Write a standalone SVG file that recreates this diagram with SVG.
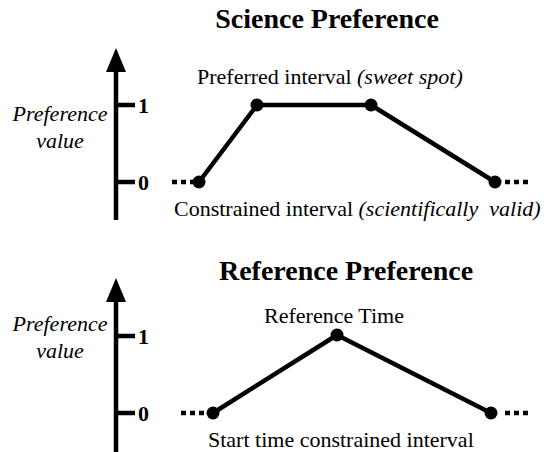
<svg xmlns="http://www.w3.org/2000/svg" width="548" height="452" viewBox="0 0 548 452">
<style>
text{font-family:"Liberation Serif","Times New Roman",serif;fill:#000}
.title{font-size:28px;font-weight:bold;text-anchor:middle}
.lbl{font-size:22px;white-space:pre}
.it{font-style:italic}
.num{font-size:22px;font-weight:bold}
.ax{stroke:#000;stroke-width:4.5;fill:none}
.curve{stroke:#000;stroke-width:4.5;fill:none;stroke-linejoin:round}
.dots{stroke:#000;stroke-width:4.5;stroke-dasharray:5 4;fill:none}
.pt{fill:#000}
</style>
<rect width="548" height="452" fill="#fff"/>
<g id="science">
  <text class="title" x="327" y="28">Science Preference</text>
  <g id="axis1">
    <line class="ax" x1="116" y1="66" x2="116" y2="220"/>
    <polygon points="116,48 106,72 126,72" fill="#000"/>
    <line class="ax" x1="116" y1="105" x2="135" y2="105"/>
    <line class="ax" x1="116" y1="182" x2="135" y2="182"/>
    <text class="num" x="138" y="113">1</text>
    <text class="num" x="138" y="190">0</text>
    <text class="lbl it" x="60" y="121" text-anchor="middle">Preference</text>
    <text class="lbl it" x="60" y="148" text-anchor="middle">value</text>
  </g>
  <g id="curve1">
    <line class="dots" x1="172" y1="182" x2="196" y2="182"/>
    <line class="dots" x1="505" y1="182" x2="530" y2="182"/>
    <polyline class="curve" points="199,182 257,105 371,105 495,182"/>
    <circle class="pt" cx="199" cy="182" r="6.5"/>
    <circle class="pt" cx="257" cy="105" r="6.5"/>
    <circle class="pt" cx="371" cy="105" r="6.5"/>
    <circle class="pt" cx="495" cy="182" r="6.5"/>
  </g>
  <text class="lbl" x="197" y="84">Preferred interval <tspan class="it">(sweet spot)</tspan></text>
  <text class="lbl" x="174" y="216" font-size="22.5">Constrained interval <tspan class="it">(scientifically  valid)</tspan></text>
</g>
<g id="reference">
  <text class="title" x="346" y="280">Reference Preference</text>
  <g id="axis2">
    <line class="ax" x1="116" y1="296" x2="116" y2="452"/>
    <polygon points="116,278 106,302 126,302" fill="#000"/>
    <line class="ax" x1="116" y1="336" x2="135" y2="336"/>
    <line class="ax" x1="116" y1="413" x2="135" y2="413"/>
    <text class="num" x="138" y="344">1</text>
    <text class="num" x="138" y="421">0</text>
    <text class="lbl it" x="60" y="331" text-anchor="middle">Preference</text>
    <text class="lbl it" x="60" y="358" text-anchor="middle">value</text>
  </g>
  <g id="curve2">
    <line class="dots" x1="181" y1="413" x2="206" y2="413"/>
    <line class="dots" x1="505" y1="413" x2="530" y2="413"/>
    <polyline class="curve" points="213,413 337,335 491,413"/>
    <circle class="pt" cx="213" cy="413" r="6.5"/>
    <circle class="pt" cx="337" cy="335" r="6.5"/>
    <circle class="pt" cx="491" cy="413" r="6.5"/>
  </g>
  <text class="lbl" x="334" y="323" text-anchor="middle">Reference Time</text>
  <text class="lbl" x="208" y="447" font-size="22.5">Start time constrained interval</text>
</g>
</svg>
